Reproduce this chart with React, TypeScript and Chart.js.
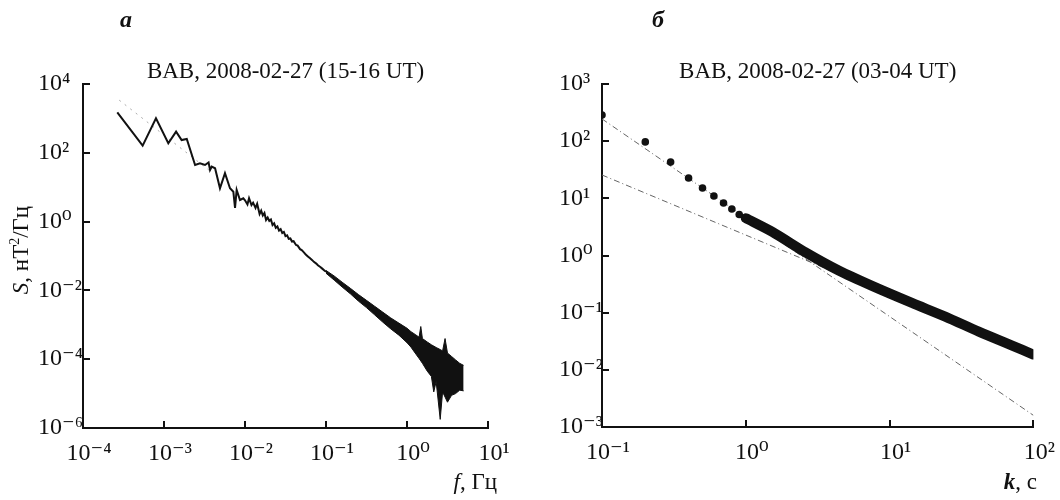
import React, { useEffect, useRef } from 'react';
import { Chart, registerables } from 'chart.js';

Chart.register(...registerables);

const SERIF = "'Liberation Serif', 'Times New Roman', 'DejaVu Serif', serif";

// ---------- Panel а ----------
const leftLetter = 'а';
const leftTitle = 'BAB, 2008-02-27 (15-16 UT)';
const leftXTicks = [1e-4, 1e-3, 1e-2, 1e-1, 1, 10];
const leftXLabels = ['10⁻⁴', '10⁻³', '10⁻²', '10⁻¹', '10⁰', '10¹'];
const leftYTicks = [1e-6, 1e-4, 1e-2, 1, 1e2, 1e4];
const leftYLabels = ['10⁻⁶', '10⁻⁴', '10⁻²', '10⁰', '10²', '10⁴'];

// low-frequency part of the spectrum (Гц, нТ²/Гц)
const specF = [2.65e-4, 5.45e-4, 7.96e-4, 1.13e-3, 1.41e-3, 1.65e-3, 1.91e-3, 2.42e-3, 2.78e-3, 3.21e-3,
  3.55e-3, 3.70e-3, 3.88e-3, 4.27e-3, 4.91e-3, 5.66e-3, 6.53e-3, 7.18e-3, 7.53e-3, 7.89e-3,
  8.67e-3, 9.53e-3,
  0.0100, 0.01072, 0.01122, 0.01202, 0.01259, 0.01349, 0.01413, 0.01514, 0.01585, 0.0166,
  0.01738, 0.0182, 0.01905, 0.01995, 0.02089, 0.02188, 0.02291, 0.02399, 0.02512, 0.0263,
  0.02754, 0.02884, 0.0302, 0.03162, 0.03311, 0.03467, 0.03631, 0.03802, 0.03981, 0.04266,
  0.04467, 0.04786, 0.05012, 0.0537, 0.05623, 0.06026, 0.0631, 0.06761, 0.07079, 0.07586,
  0.07943, 0.08511, 0.08913, 0.0955, 0.1];
const specS = [1503, 161, 1007, 189, 413, 235, 252, 44.2, 49.5, 44.2,
  52.5, 31.6, 39.5, 35.5, 9.3, 25.4, 9.3, 7.4, 2.5, 8.3,
  4.25, 4.75,
  4.17, 3.16, 4.79, 3.02, 3.55, 2.51, 3.31, 1.66, 2.09, 1.51,
  1.78, 1.12, 1.32, 1.05, 1.15, 0.794, 0.891, 0.661, 0.724, 0.55,
  0.603, 0.468, 0.501, 0.38, 0.398, 0.316, 0.324, 0.263, 0.269, 0.209,
  0.2, 0.158, 0.148, 0.126, 0.11, 0.0955, 0.0871, 0.0759, 0.0676, 0.0603,
  0.0537, 0.0479, 0.0437, 0.038, 0.0347];

// high-frequency noisy band: envelope
const bandF = [0.1, 0.126, 0.158, 0.2, 0.251, 0.316, 0.398, 0.501, 0.631, 0.794,
  1.0, 1.12, 1.26, 1.41, 1.48, 1.55, 1.78, 2.0, 2.14, 2.29,
  2.57, 2.75, 2.95, 3.16, 3.55, 3.98, 4.47, 5.0];
const bandUpper = [0.038, 0.0263, 0.0174, 0.01148, 0.00759, 0.00513, 0.00347, 0.00234, 0.00158, 0.00112,
  7.94e-4, 6.31e-4, 5.25e-4, 4.37e-4, 8.91e-4, 3.98e-4, 3.16e-4, 2.63e-4, 2.40e-4, 2.19e-4,
  1.91e-4, 1.74e-4, 3.98e-4, 1.51e-4, 1.20e-4, 9.55e-5, 7.59e-5, 6.61e-5];
const bandLower = [0.0316, 0.01995, 0.01259, 0.00794, 0.0049, 0.00316, 0.00195, 0.00120, 7.59e-4, 5.01e-4,
  3.02e-4, 2.24e-4, 1.51e-4, 1.05e-4, 8.91e-5, 7.59e-5, 4.47e-5, 3.16e-5, 1.12e-5, 2.24e-5,
  1.78e-6, 1.12e-5, 7.94e-6, 5.62e-6, 8.91e-6, 1.0e-5, 1.26e-5, 1.20e-5];

// power-law fit of the low-frequency part
const fitAF = [2.8e-4, 4e-3];
const fitAS = [3390, 25.7];

// ---------- Panel б ----------
const rightLetter = 'б';
const rightTitle = 'BAB, 2008-02-27 (03-04 UT)';
const rightXTicks = [0.1, 1, 10, 100];
const rightXLabels = ['10⁻¹', '10⁰', '10¹', '10²'];
const rightYTicks = [1e-3, 1e-2, 1e-1, 1, 10, 100, 1000];
const rightYLabels = ['10⁻³', '10⁻²', '10⁻¹', '10⁰', '10¹', '10²', '10³'];

const dotK = [0.1, 0.2, 0.3, 0.4, 0.5, 0.6, 0.7, 0.8, 0.9, 1.0,
  1.1, 1.2, 1.3, 1.4, 1.5, 1.6, 1.7, 1.8, 1.9, 2.0];
const dotS = [287, 97, 43, 22.7, 15.2, 11.0, 8.3, 6.5, 5.2, 4.5,
  3.9, 3.5, 3.15, 2.85, 2.62, 2.42, 2.2, 2.0, 1.85, 1.72];

const denseK = [1.0, 1.53, 2.64, 4.46, 7.55, 14.3, 24.6, 41.7, 70.5, 100];
const denseS = [4.5, 2.59, 1.11, 0.54, 0.294, 0.148, 0.0845, 0.0465, 0.0268, 0.0185];

const fitSteepK = [0.1, 100];
const fitSteepS = [245, 0.0016];
const fitShallowK = [0.1, 100];
const fitShallowS = [25.6, 0.018];

const pts = (xs: number[], ys: number[]) => xs.map((x, i) => ({ x, y: ys[i] }));

type Part = { t: string; font: string; dy?: number };

function drawRich(ctx: CanvasRenderingContext2D, parts: Part[], x: number, y: number, align: 'left' | 'center' | 'right') {
  let total = 0;
  const widths = parts.map((p) => {
    ctx.font = p.font;
    const w = ctx.measureText(p.t).width;
    total += w;
    return w;
  });
  let cx = align === 'left' ? x : align === 'center' ? x - total / 2 : x - total;
  parts.forEach((p, i) => {
    ctx.font = p.font;
    ctx.fillText(p.t, cx, y + (p.dy || 0));
    cx += widths[i];
  });
}

const innerTicks = {
  id: 'innerTicks',
  afterDatasetsDraw(chart: any) {
    const { ctx, chartArea, scales } = chart;
    const x = scales.x;
    const y = scales.y;
    ctx.save();
    ctx.strokeStyle = '#111';
    ctx.lineWidth = 2;
    x.ticks.forEach((t: any) => {
      const px = Math.round(x.getPixelForValue(t.value));
      ctx.beginPath();
      ctx.moveTo(px, chartArea.bottom);
      ctx.lineTo(px, chartArea.bottom - 7);
      ctx.stroke();
    });
    y.ticks.forEach((t: any) => {
      const py = Math.round(y.getPixelForValue(t.value));
      ctx.beginPath();
      ctx.moveTo(chartArea.left, py);
      ctx.lineTo(chartArea.left + 7, py);
      ctx.stroke();
    });
    ctx.restore();
  },
};

function textPlugin(opts: {
  letter: string; letterX: number; title: string;
  xTitle: Part[]; xTitleRight: number; yTitle?: Part[];
}) {
  return {
    id: 'panelTexts',
    afterDraw(chart: any) {
      const { ctx, chartArea } = chart;
      ctx.save();
      ctx.fillStyle = '#111';
      ctx.textBaseline = 'alphabetic';
      ctx.textAlign = 'left';
      drawRich(ctx, [{ t: opts.letter, font: `italic bold 24px ${SERIF}` }], opts.letterX, 27, 'center');
      drawRich(ctx, [{ t: opts.title, font: `23px ${SERIF}` }], (chartArea.left + chartArea.right) / 2, 78, 'center');
      drawRich(ctx, opts.xTitle, opts.xTitleRight, 489, 'right');
      if (opts.yTitle) {
        ctx.translate(28, 250);
        ctx.rotate(-Math.PI / 2);
        drawRich(ctx, opts.yTitle, 0, 0, 'center');
      }
      ctx.restore();
    },
  };
}

function logAxis(min: number, max: number, tickVals: number[], labels: string[], isX: boolean, size: number) {
  return {
    type: 'logarithmic',
    min,
    max,
    afterBuildTicks: (s: any) => {
      s.ticks = tickVals.map((v) => ({ value: v }));
    },
    afterFit: (s: any) => {
      if (isX) s.height = size; else s.width = size;
    },
    grid: { display: false, drawTicks: false },
    border: { display: true, color: '#111', width: 2 },
    ticks: {
      autoSkip: false,
      maxRotation: 0,
      color: '#111',
      font: { family: SERIF, size: 24 },
      padding: isX ? 11 : 0,
      labelOffset: isX ? 6 : 0,
      crossAlign: isX ? 'near' : 'far',
      callback: (_v: any, i: number) => labels[i],
    },
  };
}

export default function App() {
  const leftRef = useRef<HTMLCanvasElement>(null);
  const rightRef = useRef<HTMLCanvasElement>(null);

  useEffect(() => {
    const left = new Chart(leftRef.current as HTMLCanvasElement, {
      type: 'scatter',
      data: {
        datasets: [
          { data: pts(specF, specS), showLine: true, borderColor: '#111', borderWidth: 2, pointRadius: 0, fill: false },
          { data: pts(bandF, bandUpper), showLine: true, borderColor: '#111', borderWidth: 1, pointRadius: 0, backgroundColor: '#111', fill: '+1' },
          { data: pts(bandF, bandLower), showLine: true, borderColor: '#111', borderWidth: 1, pointRadius: 0, fill: false },
          { data: pts(fitAF, fitAS), showLine: true, borderColor: '#aaa', borderWidth: 1, borderDash: [2, 5], pointRadius: 0, fill: false },
        ],
      },
      options: {
        animation: false,
        responsive: false,
        devicePixelRatio: 1,
        layout: { padding: { left: 38, right: 42, top: 84, bottom: 0 } },
        plugins: { legend: { display: false }, tooltip: { enabled: false } },
        scales: {
          x: logAxis(1e-4, 10, leftXTicks, leftXLabels, true, 72),
          y: logAxis(1e-6, 1e4, leftYTicks, leftYLabels, false, 45),
        },
      } as any,
      plugins: [innerTicks, textPlugin({
        letter: leftLetter, letterX: 126, title: leftTitle,
        xTitle: [{ t: 'f', font: `italic 23px ${SERIF}` }, { t: ', Гц', font: `23px ${SERIF}` }],
        xTitleRight: 497,
        yTitle: [
          { t: 'S', font: `italic 23px ${SERIF}` },
          { t: ', нТ', font: `23px ${SERIF}` },
          { t: '2', font: `14px ${SERIF}`, dy: -9 },
          { t: '/Гц', font: `23px ${SERIF}` },
        ],
      })],
    });

    const right = new Chart(rightRef.current as HTMLCanvasElement, {
      type: 'scatter',
      data: {
        datasets: [
          { data: pts(dotK, dotS), showLine: false, pointRadius: 3.8, pointBackgroundColor: '#111', pointBorderWidth: 0 },
          { data: pts(denseK, denseS), showLine: true, borderColor: '#111', borderWidth: 10, tension: 0.25, borderCapStyle: 'round', borderJoinStyle: 'round', pointRadius: 0, fill: false },
          { data: pts(fitSteepK, fitSteepS), showLine: true, borderColor: '#666', borderWidth: 1, borderDash: [6, 3, 1, 3], pointRadius: 0, fill: false },
          { data: pts(fitShallowK, fitShallowS), showLine: true, borderColor: '#666', borderWidth: 1, borderDash: [6, 3, 1, 3], pointRadius: 0, fill: false },
        ],
      },
      options: {
        animation: false,
        responsive: false,
        devicePixelRatio: 1,
        layout: { padding: { left: 29, right: 25, top: 84, bottom: 0 } },
        plugins: { legend: { display: false }, tooltip: { enabled: false } },
        scales: {
          x: logAxis(0.1, 100, rightXTicks, rightXLabels, true, 73),
          y: logAxis(1e-3, 1e3, rightYTicks, rightYLabels, false, 43),
        },
      } as any,
      plugins: [innerTicks, textPlugin({
        letter: rightLetter, letterX: 128, title: rightTitle,
        xTitle: [{ t: 'k', font: `italic bold 23px ${SERIF}` }, { t: ', с', font: `23px ${SERIF}` }],
        xTitleRight: 507,
      })],
    });

    return () => {
      left.destroy();
      right.destroy();
    };
  }, []);

  return (
    <div style={{ position: 'absolute', left: 0, top: 0, width: 1060, height: 500, background: '#fff', display: 'flex' }}>
      <canvas ref={leftRef} width={530} height={500} style={{ width: 530, height: 500 }} />
      <canvas ref={rightRef} width={530} height={500} style={{ width: 530, height: 500 }} />
    </div>
  );
}
